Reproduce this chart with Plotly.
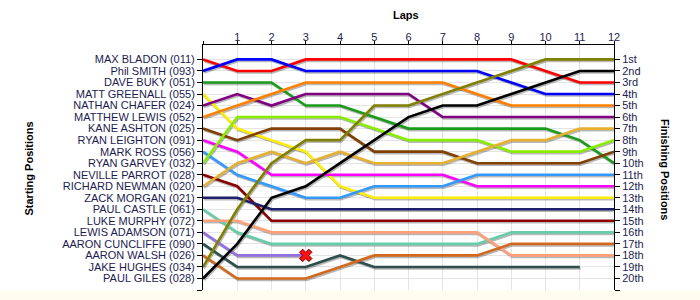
import plotly.graph_objects as go

# ---------------- data ----------------
drivers = [
    "MAX BLADON (011)", "Phil SMITH (093)", "DAVE BUKY (051)", "MATT GREENALL (055)",
    "NATHAN CHAFER (024)", "MATTHEW LEWIS (052)", "KANE ASHTON (025)", "RYAN LEIGHTON (091)",
    "MARK ROSS (056)", "RYAN GARVEY (032)", "NEVILLE PARROT (028)", "RICHARD NEWMAN (020)",
    "ZACK MORGAN (021)", "PAUL CASTLE (061)", "LUKE MURPHY (072)", "LEWIS ADAMSON (071)",
    "AARON CUNCLIFFE (090)", "AARON WALSH (026)", "JAKE HUGHES (034)", "PAUL GILES (028)",
]
finish_labels = ["1st", "2nd", "3rd", "4th", "5th", "6th", "7th", "8th", "9th", "10th",
                 "11th", "12th", "13th", "14th", "15th", "16th", "17th", "18th", "19th", "20th"]
lap_ticks = [1, 2, 3, 4, 5, 6, 7, 8, 9, 10, 11, 12]

positions = [
    [1, 2, 2, 1, 1, 1, 1, 1, 1, 1, 2, 3, 3],
    [2, 1, 1, 2, 2, 2, 2, 2, 2, 3, 4, 4, 4],
    [3, 3, 3, 5, 5, 6, 7, 7, 7, 7, 7, 8, 10],
    [4, 7, 8, 9, 12, 13, 13, 13, 13, 13, 13, 13, 13],
    [5, 4, 5, 4, 4, 4, 4, 6, 6, 6, 6, 6, 6],
    [6, 5, 4, 3, 3, 3, 3, 3, 4, 5, 5, 5, 5],
    [7, 8, 7, 7, 7, 9, 9, 9, 10, 10, 10, 10, 9],
    [8, 9, 11, 11, 11, 11, 11, 11, 12, 12, 12, 12, 12],
    [9, 11, 12, 13, 13, 12, 12, 12, 11, 11, 11, 11, 11],
    [10, 6, 6, 6, 6, 7, 8, 8, 8, 9, 9, 9, 8],
    [11, 12, 15, 15, 15, 15, 15, 15, 15, 15, 15, 15, 15],
    [12, 10, 9, 10, 9, 10, 10, 10, 9, 8, 8, 7, 7],
    [13, 13, 14, 14, 14, 14, 14, 14, 14, 14, 14, 14, 14],
    [14, 16, 17, 17, 17, 17, 17, 17, 17, 16, 16, 16, 16],
    [15, 15, 16, 16, 16, 16, 16, 16, 16, 18, 18, 18, 18],
    [16, 18, 18, 18],
    [17, 19, 19, 19, 18, 19, 19, 19, 19, 19, 19, 19],
    [18, 20, 20, 20, 19, 18, 18, 18, 18, 17, 17, 17, 17],
    [19, 14, 10, 8, 8, 5, 5, 4, 3, 2, 1, 1, 1],
    [20, 17, 13, 12, 10, 8, 6, 5, 5, 4, 3, 2, 2],
]
retired = [15]  # index of driver marked with a cross at their last lap

colors = [
    "#ff0000", "#0000ff", "#1a9c1a", "#ffee00", "#800080", "#ff8000", "#804000",
    "#ff00ff", "#3399ff", "#88ee00", "#8b0000", "#e6b030", "#1f1f6e", "#66cdaa",
    "#ffa07a", "#9370db", "#2f4f4f", "#d2691e", "#808000", "#000000",
]

# ---------------- layout geometry ----------------
W, H = 700, 300
ML, MR, MT, MB = 203, 86, 45, 10
xr = [0, 12]
yr = [21, -0.25]
pw = W - ML - MR
ph = H - MT - MB
dx_px, dy_px = 1.0, 1.5
dxu = dx_px * (xr[1] - xr[0]) / pw
dyu = dy_px * (yr[0] - yr[1]) / ph

label_color = "#1c1c50"
tick_font = dict(family="Liberation Sans, Arial, sans-serif", size=11, color=label_color)
title_font = dict(family="Liberation Sans, Arial, sans-serif", size=11, color="#000")

fig = go.Figure()

# base layer (axes, grid) - invisible carrier trace
fig.add_trace(go.Scatter(x=list(range(len(positions[0]))), y=positions[0], mode="lines",
                         line=dict(color="rgba(0,0,0,0)"), hoverinfo="skip",
                         showlegend=False, xaxis="x", yaxis="y"))

# shadow layer
for pos in positions:
    laps = list(range(len(pos)))
    fig.add_trace(go.Scatter(x=laps, y=pos, mode="lines",
                             line=dict(color="rgba(0,0,0,0.28)", width=2.6),
                             hoverinfo="skip", showlegend=False, xaxis="x2", yaxis="y2"))

# main lines
for name, pos, col in zip(drivers, positions, colors):
    laps = list(range(len(pos)))
    fig.add_trace(go.Scatter(x=laps, y=pos, mode="lines", name=name,
                             line=dict(color=col, width=2.6),
                             showlegend=False, xaxis="x3", yaxis="y3"))

for i in retired:
    pos = positions[i]
    fig.add_trace(go.Scatter(x=[len(pos) - 1], y=[pos[-1]], mode="markers",
                             marker=dict(symbol="x", size=11, color="#ff1010",
                                         line=dict(color="#800000", width=1)),
                             showlegend=False, xaxis="x3", yaxis="y3"))

grid = "#e4e4e4"
fig.update_layout(
    width=W, height=H,
    margin=dict(l=ML, r=MR, t=MT, b=MB, pad=0),
    paper_bgcolor="#ffffff", plot_bgcolor="#ffffff",
    xaxis=dict(side="top", range=xr, tickvals=[0] + lap_ticks, ticktext=[""] + [str(v) for v in lap_ticks],
               ticks="outside", ticklen=3, tickcolor="#000", showline=True, linecolor="#000",
               linewidth=1, showgrid=True, gridcolor=grid, gridwidth=1, zeroline=False,
               tickfont=tick_font, ticklabelstandoff=-4, fixedrange=True),
    yaxis=dict(range=yr, tickvals=list(range(1, 22)), ticktext=drivers + [""],
               ticks="outside", ticklen=5, tickcolor="#000", showline=True, linecolor="#000",
               linewidth=1, showgrid=True, gridcolor=grid, gridwidth=1, zeroline=False,
               tickfont=tick_font, fixedrange=True),
    xaxis2=dict(overlaying="x", range=[xr[0] - dxu, xr[1] - dxu], visible=False, fixedrange=True),
    yaxis2=dict(overlaying="y", range=[yr[0] - dyu, yr[1] - dyu], visible=False, fixedrange=True),
    xaxis3=dict(overlaying="x", range=xr, visible=False, fixedrange=True),
    yaxis3=dict(overlaying="y", side="right", range=yr, tickvals=list(range(1, 22)),
                ticktext=finish_labels + [""], ticks="outside", ticklen=5, tickcolor="#000",
                showline=True, linecolor="#000", linewidth=1, showgrid=False, zeroline=False,
                tickfont=tick_font, fixedrange=True),
    shapes=[dict(type="rect", xref="paper", yref="paper", x0=-1, x1=2,
                 y0=-MB / ph - 0.01, y1=0, fillcolor="#fffdf0", line=dict(width=0),
                 layer="below")],
    annotations=[
        dict(text="<b>Laps</b>", xref="paper", yref="paper", x=(406 - ML) / pw,
             y=1 + 30 / ph, xanchor="center", yanchor="middle",
             showarrow=False, font=title_font),
        dict(text="<b>Starting Positions</b>", xref="paper", yref="paper",
             x=-(ML - 28) / pw, y=(H - MB - 168.5) / ph, xanchor="center", yanchor="middle",
             textangle=-90, showarrow=False, font=title_font),
        dict(text="<b>Finishing Positions</b>", xref="paper", yref="paper",
             x=1 + (665 - (W - MR)) / pw, y=(H - MB - 169) / ph, xanchor="center",
             yanchor="middle", textangle=90, showarrow=False, font=title_font),
    ],
)

fig.write_html("out.html")
